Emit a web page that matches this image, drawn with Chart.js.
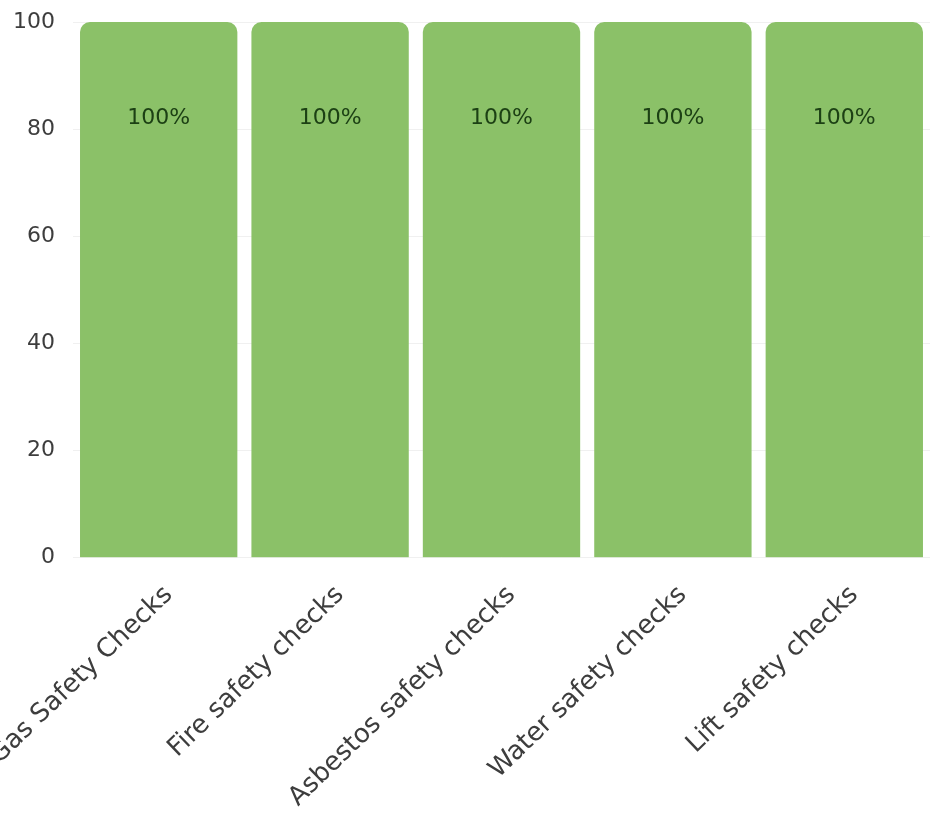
<!DOCTYPE html>
<html lang="en">
<head>
<meta charset="utf-8">
<title>Safety checks completion</title>
<script src="https://cdn.jsdelivr.net/npm/chart.js@4.4.1/dist/chart.umd.min.js"></script>
<style>
  html, body { margin: 0; padding: 0; background: #fff; }
  #wrap { position: relative; width: 930px; height: 821px; overflow: hidden; }
</style>
</head>
<body>
<div id="wrap"><canvas id="checksChart"></canvas></div>
<script>
// data
const categories = ["Gas Safety Checks", "Fire safety checks", "Asbestos safety checks", "Water safety checks", "Lift safety checks"];
const completion = [100, 100, 100, 100, 100];
const yTicks = [0, 20, 40, 60, 80, 100];

const barColor = "#8BC168";
const labelColor = "#1c4014";
const fontFamily = "'DejaVu Sans', sans-serif";

/**
 * Draws the "100%" text inside each bar, a bit under its top
 */
const valueLabels = {
  id: "valueLabels",
  afterDatasetsDraw(chart) {
    const ctx = chart.ctx;
    const meta = chart.getDatasetMeta(0);
    ctx.save();
    ctx.font = "22px " + fontFamily;
    ctx.fillStyle = labelColor;
    ctx.textAlign = "center";
    ctx.textBaseline = "middle";
    meta.data.forEach((bar, i) => {
      ctx.fillText(completion[i] + "%", bar.x, bar.y + 96);
    });
    ctx.restore();
  }
};

document.addEventListener("DOMContentLoaded", () => {
  Chart.defaults.font.family = fontFamily;
  const ctx = document.getElementById("checksChart").getContext("2d");

  new Chart(ctx, {
    type: "bar",
    data: {
      labels: categories,
      datasets: [{
        data: completion,
        backgroundColor: barColor,
        borderRadius: 10,
        borderSkipped: "start",
        categoryPercentage: 1,
        barPercentage: 0.918
      }]
    },
    options: {
      responsive: true,
      maintainAspectRatio: false,
      animation: false,
      layout: {
        padding: { top: 22, left: 13, right: 0, bottom: -6 }
      },
      plugins: {
        legend: { display: false },
        tooltip: { enabled: false }
      },
      scales: {
        x: {
          grid: { display: false },
          border: { display: false },
          ticks: {
            color: "#3d3d3d",
            font: { size: 26 },
            minRotation: 44,
            maxRotation: 44,
            autoSkip: false,
            padding: 14,
            labelOffset: 10
          },
          // first label runs off the left edge in the reference -> no room kept for it
          afterFit(scale) {
            scale.paddingLeft = 0;
          }
        },
        y: {
          min: yTicks[0],
          max: yTicks[yTicks.length - 1],
          grid: { color: "rgba(0,0,0,0.06)", drawTicks: false },
          border: { display: false },
          ticks: {
            stepSize: yTicks[1] - yTicks[0],
            color: "#3d3d3d",
            font: { size: 22 },
            padding: 18
          },
          // chart.js counts the tick padding twice, keep it once; top comes from layout padding
          afterFit(scale) {
            scale.width -= scale.options.ticks.padding;
            scale.paddingTop = 0;
          }
        }
      }
    },
    plugins: [valueLabels]
  });
});
</script>
</body>
</html>
